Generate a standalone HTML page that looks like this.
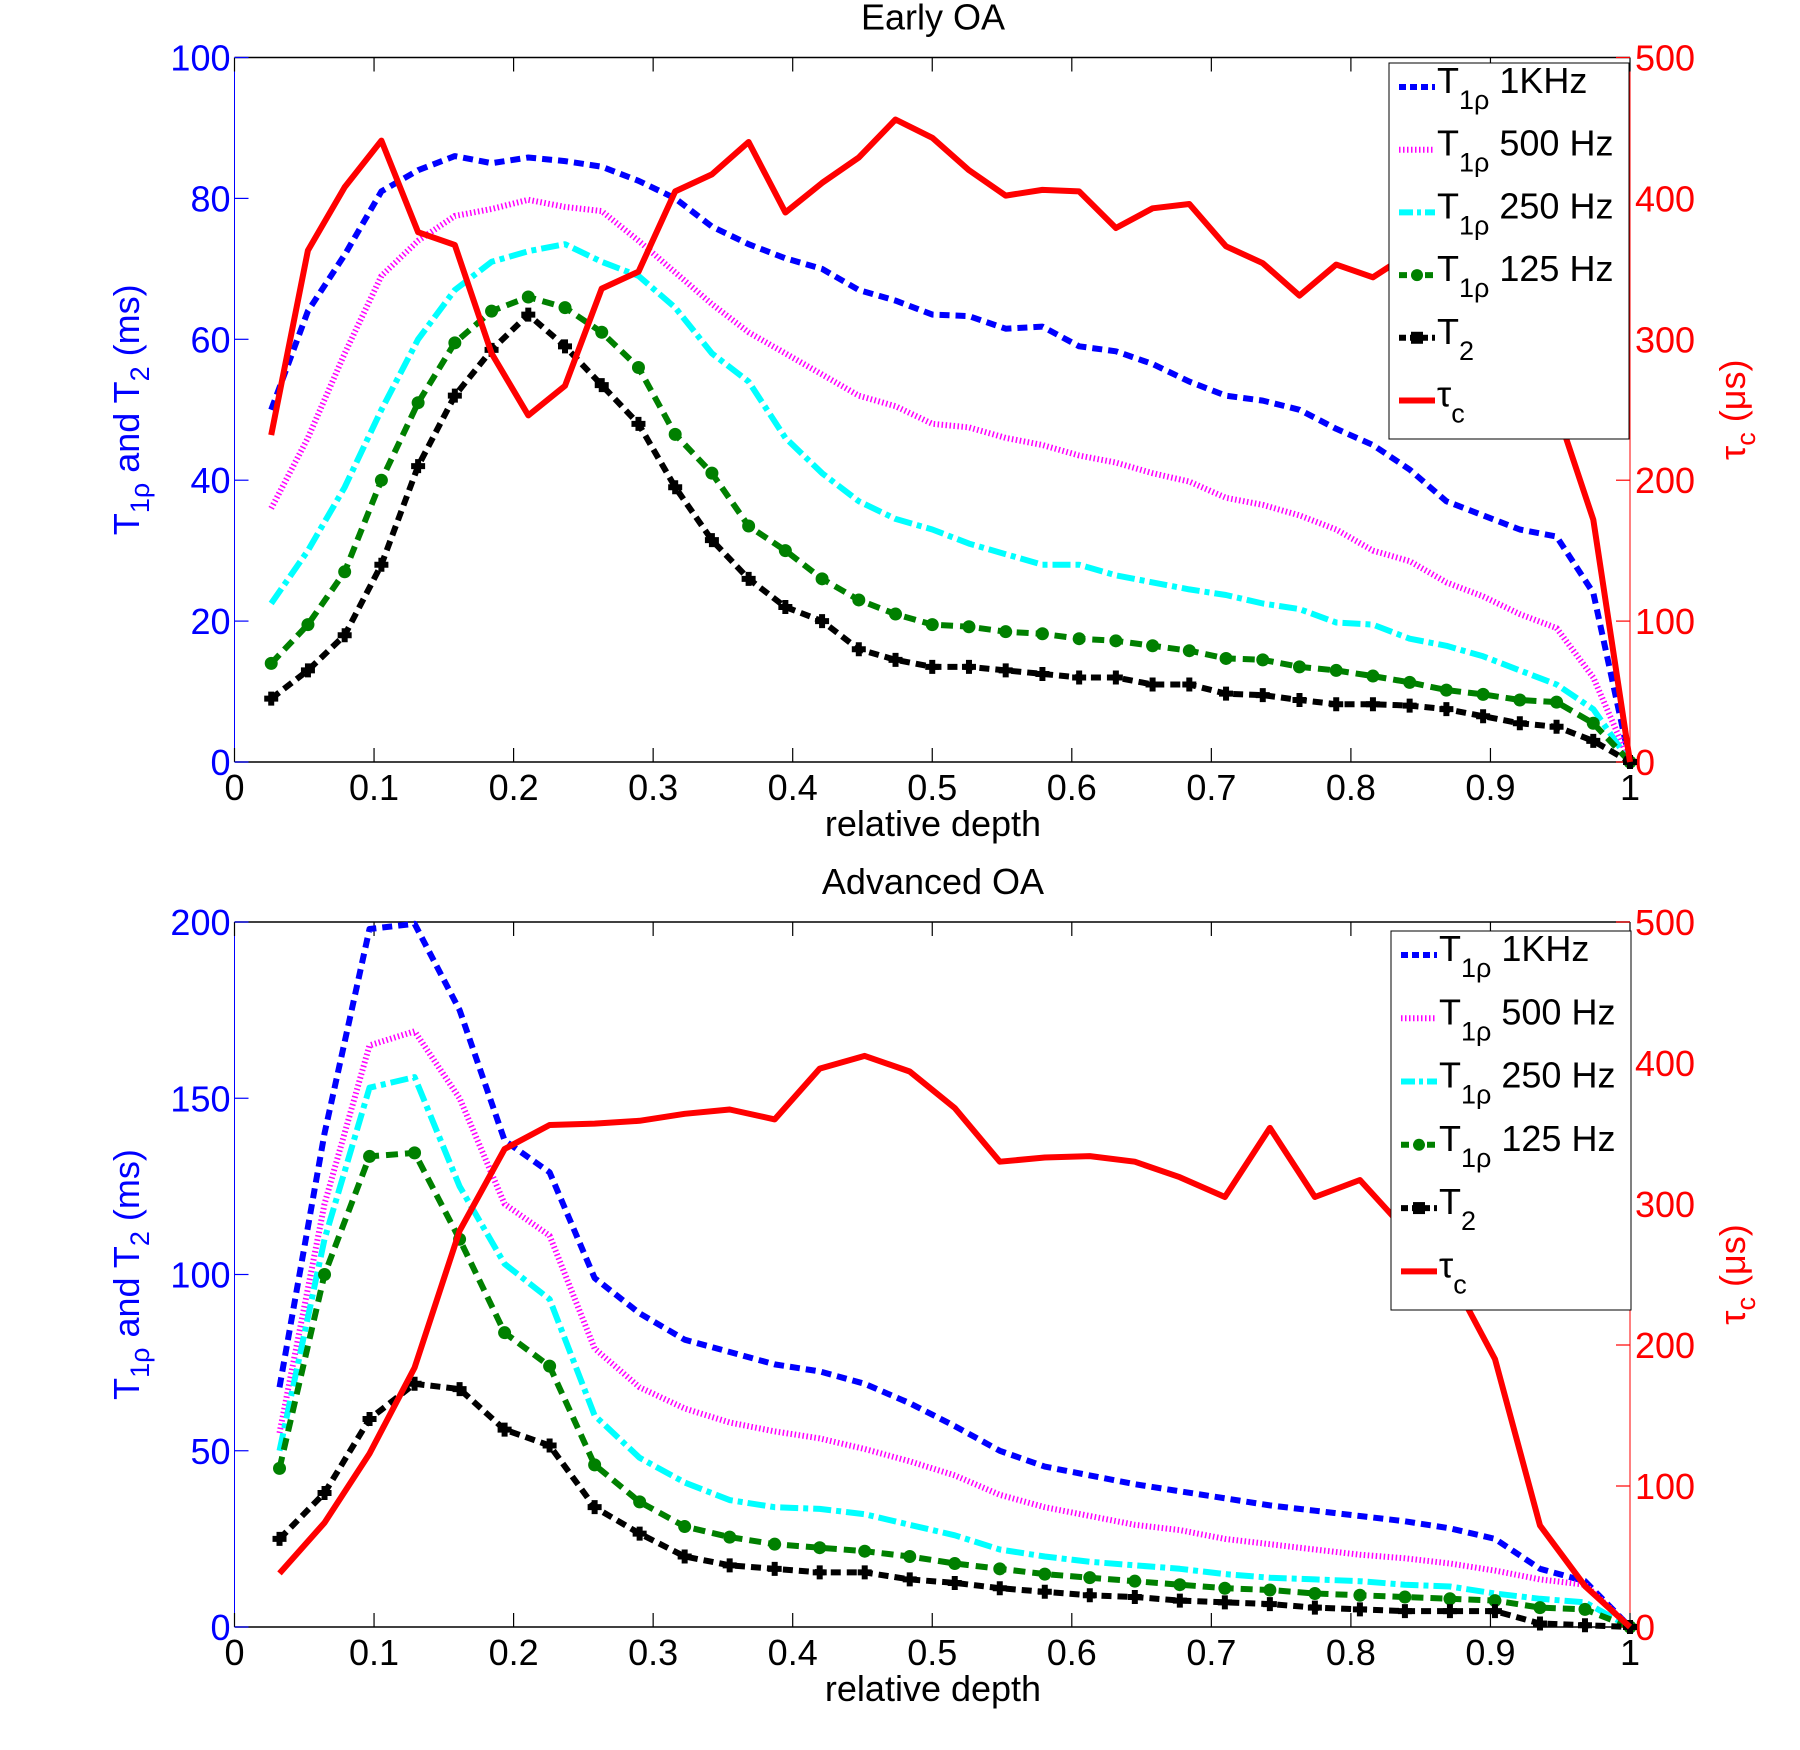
<!DOCTYPE html>
<html><head><meta charset="utf-8"><style>
html,body{margin:0;padding:0;background:#fff}
svg{display:block;font-family:"Liberation Sans",sans-serif}
</style></head><body>
<svg id="chart" width="1800" height="1750" viewBox="0 0 1800 1750" xmlns="http://www.w3.org/2000/svg"></svg>
<script>
const topT2=[9,13,18,28,42,52,58.5,63.5,59,53.5,48,39,31.5,26,22,20,16,14.5,13.5,13.5,13,12.5,12,12,11,11,9.7,9.5,8.8,8.2,8.2,8,7.5,6.5,5.5,5,3,0];
const top125=[14,19.5,27,40,51,59.5,64,66,64.5,61,56,46.5,41,33.5,30,26,23,21,19.5,19.2,18.5,18.2,17.5,17.2,16.5,15.8,14.7,14.5,13.5,13,12.2,11.3,10.2,9.6,8.8,8.5,5.5,0];
const top250=[22.5,30,39,50,60,67,71,72.5,73.5,71,69,64.5,58,54,46,41,37,34.5,33,31,29.5,28,28,26.5,25.5,24.5,23.7,22.5,21.7,19.8,19.5,17.5,16.5,15,13,11,7.5,0];
const top500=[36,46,58,69,74,77.5,78.5,79.8,78.8,78.2,74,69.5,65,61,58,55,52,50.5,48,47.5,46,45,43.5,42.5,41,39.8,37.5,36.5,35,33,30,28.5,25.5,23.5,21,19,12,0];
const top1k=[50,64,72,81,84,86,85,85.8,85.3,84.5,82.5,80,76,73.5,71.5,70,67,65.5,63.5,63.3,61.5,61.8,59,58.3,56.5,54,52,51.3,50,47.3,45,41.5,37,35,33,32,24,0];
const topTau=[232,363,408,441,376,367,290,246,267,336,348,405,417,440,390,411,429,456,443,420,402,406,405,379,393,396,366,354,331,353,344,361,340,320,290,250,172,0];
const botT2=[25,38,59,69,67.5,56,51.5,34,26.5,20,17.5,16.5,15.5,15.5,13.5,12.5,11,10,9,8.5,7.5,7,6.5,5.5,5,4.5,4.5,4.5,1,0.5,0];
const bot125=[45,100,133.5,134.5,110,83.5,74,46,35.5,28.5,25.5,23.5,22.5,21.5,20,18,16.5,15,14,13,12,11,10.5,9.5,9,8.5,8,7.5,5.5,5,0];
const bot250=[50,110,153,156,125,103,93,60,48,41,36,34,33.5,32,29,26,22,20,18.5,17.5,16.5,15,14,13.5,13,12,11.5,9.5,8,7,0];
const bot500=[55,120,165,169,150,120,111,79,68,62,58,55.5,53.5,50.5,47,43,37.5,34,31.5,29,27.5,25,23.5,22,20.5,19.5,18,16,13.5,12,0];
const bot1k=[68,140,198,199.5,175,138,129,99,89,81.5,78,74.5,72.5,69,63.5,57,50,45.5,43,40.5,38.5,36.5,34.5,33,31.5,30,28,25,16.5,13,0];
const botTau=[38,74,123,184,281,339,356,357,359,364,367,360,396,405,394,368,330,333,334,330,319,305,354,305,317,282,250,190,72,29,0];
const xTicks=[0,0.1,0.2,0.3,0.4,0.5,0.6,0.7,0.8,0.9,1];
const topLeftTicks=[0,20,40,60,80,100];
const botLeftTicks=[0,50,100,150,200];
const tauTicks=[0,100,200,300,400,500];

const NS="http://www.w3.org/2000/svg";
const svg=document.getElementById('chart');
function mk(tag,attrs,parent,text){const e=document.createElementNS(NS,tag);for(const k in attrs)e.setAttribute(k,attrs[k]);if(text!==undefined)e.textContent=text;(parent||svg).appendChild(e);return e;}

const X0=234.5,X1=1630;
const xs=v=>X0+v*(X1-X0);
const FS=36;

function panel(cfg){
  const g=mk('g',{});
  
  
  const top=cfg.top,bot=cfg.bot;
  const ysL=v=>bot-v/cfg.lmax*(bot-top);
  const ysR=v=>bot-v/500*(bot-top);
  let a=mk('line',{x1:X0,y1:top,x2:X1,y2:top,stroke:'#000','stroke-width':1.5},g);
  
  a=mk('line',{x1:X0,y1:bot,x2:X1,y2:bot,stroke:'#000','stroke-width':1.5},g);
  
  a=mk('line',{x1:X0,y1:top,x2:X0,y2:bot,stroke:'#0000ff','stroke-width':1},g);
  
  a=mk('line',{x1:X1,y1:top,x2:X1,y2:bot,stroke:'#ff0000','stroke-width':1},g);
  
  xTicks.forEach(t=>{
    const x=xs(t);
    mk('line',{x1:x,y1:bot,x2:x,y2:bot-14,stroke:'#000','stroke-width':1.2},g);
    mk('line',{x1:x,y1:top,x2:x,y2:top+14,stroke:'#000','stroke-width':1.2},g);
    const tl=mk('text',{x:x,y:bot+38,'text-anchor':'middle','font-size':FS,fill:'#000'},g,String(t));
    
  });
  cfg.lticks.forEach(t=>{
    const y=ysL(t);
    mk('line',{x1:X0,y1:y,x2:X0+14,y2:y,stroke:'#0000ff','stroke-width':1.2},g);
    const tl=mk('text',{x:X0-4,y:y+13,'text-anchor':'end','font-size':FS,fill:'#0000ff'},g,String(t));
    
  });
  tauTicks.forEach(t=>{
    const y=ysR(t);
    mk('line',{x1:X1,y1:y,x2:X1-14,y2:y,stroke:'#ff0000','stroke-width':1.2},g);
    const tl=mk('text',{x:X1+5,y:y+13,'text-anchor':'start','font-size':FS,fill:'#ff0000'},g,String(t));
    
  });
  const ti=mk('text',{x:933,y:top-28,'text-anchor':'middle','font-size':FS,fill:'#000'},g,cfg.title);
  
  const xl=mk('text',{x:933,y:bot+74,'text-anchor':'middle','font-size':FS,fill:'#000'},g,'relative depth');
  
  const cy=(top+bot)/2;
  const yl=mk('text',{transform:`translate(139,${cy}) rotate(-90)`,'text-anchor':'middle','font-size':FS,fill:'#0000ff'},g);
  
  yl.innerHTML='T<tspan font-size="27" dy="10">1ρ</tspan><tspan dy="-10"> and T</tspan><tspan font-size="27" dy="10">2</tspan><tspan dy="-10"> (ms)</tspan>';
  const yr=mk('text',{transform:`translate(1745,${cy}) rotate(-90)`,'text-anchor':'middle','font-size':FS,fill:'#ff0000'},g);
  
  yr.innerHTML='τ<tspan font-size="27" dy="10">c</tspan><tspan dy="-10"> (μs)</tspan>';

  const n=cfg.t2.length;
  const xv=i=>(i+1)/n;
  function line(vals,scale,style,nm){
    const pts=vals.map((v,i)=>xs(xv(i)).toFixed(1)+','+scale(v).toFixed(1)).join(' ');
    const p=mk('polyline',Object.assign({points:pts,fill:'none','stroke-linejoin':'round'},style),g);
    
    
    return p;
  }
  line(cfg.t1k,ysL,{stroke:'#0000ff','stroke-width':6,'stroke-dasharray':'10 6'},'series-t1rho-1khz');
  line(cfg.t500,ysL,{stroke:'#ff00ff','stroke-width':6,'stroke-dasharray':'1.5 2.5'},'series-t1rho-500hz');
  line(cfg.t250,ysL,{stroke:'#00ffff','stroke-width':6,'stroke-dasharray':'18 5 5 5'},'series-t1rho-250hz');
  line(cfg.t125,ysL,{stroke:'#008000','stroke-width':6,'stroke-dasharray':'12 7'},'series-t1rho-125hz');
  cfg.t125.forEach((v,i)=>{
    const c=mk('circle',{cx:xs(xv(i)),cy:ysL(v),r:6.5,fill:'#008000'},g);
    
  });
  line(cfg.t2,ysL,{stroke:'#000','stroke-width':6,'stroke-dasharray':'10 6'},'series-t2');
  cfg.t2.forEach((v,i)=>{
    const x=xs(xv(i)),y=ysL(v);
    const m=mk('path',{d:`M${x-3},${y-7}h6v4h4v6h-4v4h-6v-4h-4v-6h4z`,fill:'#000'},g);
    
  });
  line(cfg.tau,ysR,{stroke:'#ff0000','stroke-width':6},'series-tau-c');

  const L=cfg.leg;
  const lg=mk('g',{},g);
  
  mk('rect',{x:L.x,y:L.y,width:240,height:L.h,fill:'#fff',stroke:'#000','stroke-width':1},lg);
  const entries=[
    ['T','1ρ',' 1KHz',{stroke:'#0000ff','stroke-dasharray':'7 4'}],
    ['T','1ρ',' 500 Hz',{stroke:'#ff00ff','stroke-dasharray':'1.5 2.5'}],
    ['T','1ρ',' 250 Hz',{stroke:'#00ffff','stroke-dasharray':'14 4 4 4'}],
    ['T','1ρ',' 125 Hz',{stroke:'#008000','stroke-dasharray':'8 5'},'c'],
    ['T','2','',{stroke:'#000','stroke-dasharray':'7 4'},'s'],
    ['τ','c','',{stroke:'#ff0000'}]
  ];
  const step=(L.h-50)/5.2;
  entries.forEach((e,k)=>{
    const y=L.y+24+k*step;
    const eg=mk('g',{},lg);
    
    mk('line',Object.assign({x1:L.x+10,y1:y,x2:L.x+46,y2:y,'stroke-width':6},e[3]),eg);
    if(e[4]==='c')mk('circle',{cx:L.x+28,cy:y,r:6,fill:'#008000'},eg);
    if(e[4]==='s')mk('rect',{x:L.x+22,y:y-6,width:12,height:12,fill:'#000'},eg);
    const t=mk('text',{x:L.x+48,y:y+6,'font-size':FS,fill:'#000'},eg);
    t.innerHTML=`${e[0]}<tspan font-size="27" dy="16">${e[1]}</tspan><tspan dy="-16">${e[2]}</tspan>`;
  });
}
panel({name:'early-oa-panel',title:'Early OA',top:57.5,bot:762,lmax:100,lticks:topLeftTicks,
  t2:topT2,t125:top125,t250:top250,t500:top500,t1k:top1k,tau:topTau,leg:{x:1389,y:63,h:376}});
panel({name:'advanced-oa-panel',title:'Advanced OA',top:922,bot:1627,lmax:200,lticks:botLeftTicks,
  t2:botT2,t125:bot125,t250:bot250,t500:bot500,t1k:bot1k,tau:botTau,leg:{x:1391,y:931,h:379}});
</script>
</body></html>
